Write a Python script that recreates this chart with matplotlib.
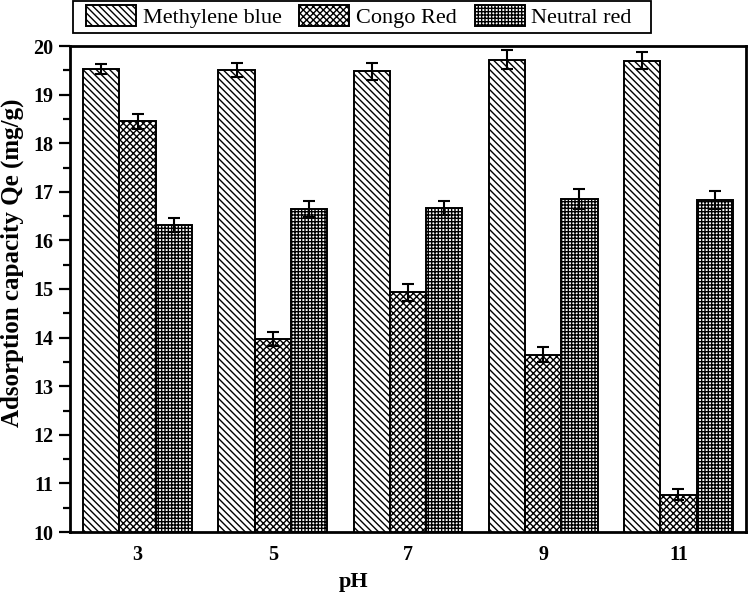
import numpy as np
import matplotlib
matplotlib.use("Agg")
import matplotlib.pyplot as plt
from matplotlib.patches import Rectangle
from matplotlib.ticker import MultipleLocator

plt.rcParams["font.family"] = ["Liberation Serif", "DejaVu Serif"]
plt.rcParams["hatch.linewidth"] = 1.0

ph = ["3", "5", "7", "9", "11"]
dyes = ["Methylene blue", "Congo Red", "Neutral red"]
mb = [19.52, 19.50, 19.48, 19.72, 19.70]
cr = [18.45, 13.97, 14.93, 13.65, 10.77]
nr = [16.32, 16.65, 16.67, 16.85, 16.83]
mb_err = [0.10, 0.14, 0.17, 0.20, 0.18]
cr_err = [0.16, 0.15, 0.18, 0.15, 0.12]
nr_err = [0.15, 0.17, 0.15, 0.20, 0.18]
hatches = ["\\\\\\\\\\", "xxxxx", "+++++"]

fig = plt.figure(figsize=(7.49, 6.01), dpi=100)
ax = fig.add_axes([70 / 749, 1 - 532 / 601, 676 / 749, 486 / 601])

x = np.arange(len(ph))
w = 0.268
values = [mb, cr, nr]
errors = [mb_err, cr_err, nr_err]
for i in range(3):
    ax.bar(x + (i - 1) * w, values[i], w, bottom=0, color="white",
           edgecolor="black", linewidth=1.4, hatch=hatches[i], label=dyes[i],
           yerr=errors[i], capsize=4.5,
           error_kw=dict(elinewidth=1.5, capthick=1.5, ecolor="black"))

ax.set_ylim(10, 20)
ax.set_xlim(-0.5, 4.5)
ax.set_xticks(x)
ax.set_xticklabels(ph)
ax.yaxis.set_major_locator(MultipleLocator(1))
ax.yaxis.set_minor_locator(MultipleLocator(0.5))
ax.tick_params(axis="x", length=0, pad=9, labelsize=14.5)
ax.tick_params(axis="y", which="major", length=8, width=1.6, pad=4, labelsize=14.5)
ax.tick_params(axis="y", which="minor", length=5, width=1.6)
for lab in ax.get_xticklabels() + ax.get_yticklabels():
    lab.set_fontweight("bold")
for s in ax.spines.values():
    s.set_linewidth(2)

ax.set_ylabel("Adsorption capacity Qe (mg/g)", fontsize=18, fontweight="bold",
              va="center")
ax.yaxis.set_label_coords(-0.085, 0.555)
ax.set_xlabel("pH", fontsize=16, fontweight="bold")
ax.xaxis.set_label_coords(0.42, -0.083)

# legend box sits above the axes
fig.patches.append(Rectangle((73 / 749, 1 - 33 / 601), 578 / 749, 32 / 601,
                             transform=fig.transFigure, facecolor="white",
                             edgecolor="black", linewidth=1.3))
fig.legend(loc="upper left", bbox_to_anchor=(86 / 749, 1 - 5 / 601), ncol=3,
           fontsize=16, frameon=False, handlelength=2.25, handleheight=1.1,
           borderpad=0, columnspacing=0.8, handletextpad=0.3, borderaxespad=0)

fig.savefig("out.png", dpi=100)
